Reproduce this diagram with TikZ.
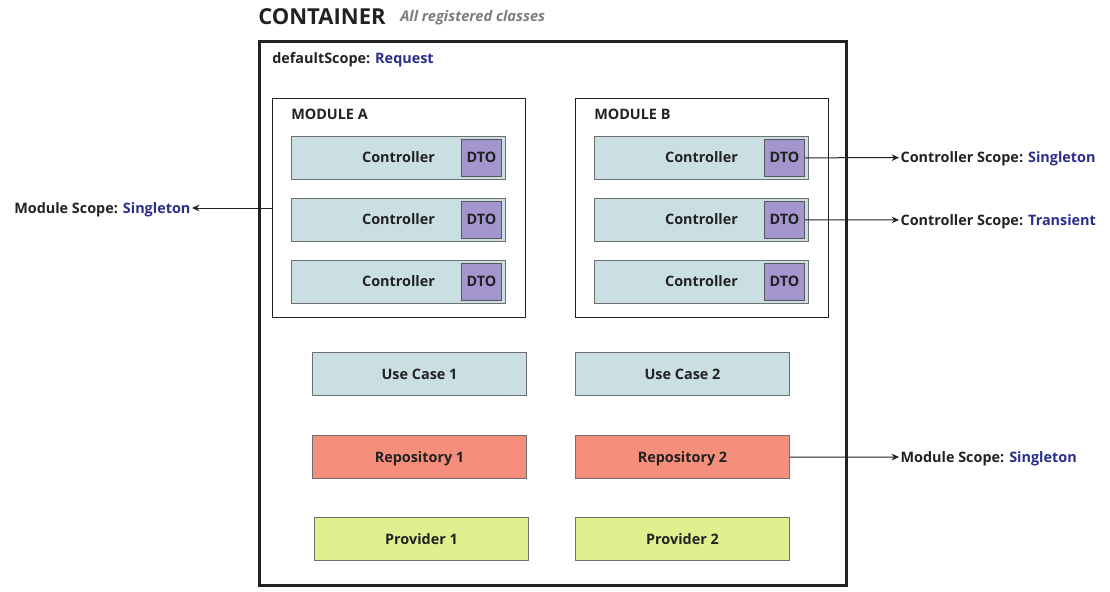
\documentclass[tikz,border=0pt]{standalone}
\usepackage{fontspec}
\setmainfont{Open Sans}
\usepackage{xcolor}
\usetikzlibrary{arrows.meta, positioning}
\definecolor{ink}{RGB}{34,34,34}
\definecolor{scopeblue}{RGB}{43,45,140}
\definecolor{ctrlfill}{RGB}{201,223,225}
\definecolor{dtofill}{RGB}{163,150,207}
\definecolor{repofill}{RGB}{245,143,124}
\definecolor{provfill}{RGB}{224,238,141}
\definecolor{note}{RGB}{125,125,125}

\begin{document}
\begin{tikzpicture}[
  x=0.75pt, y=-0.75pt,
  node distance=13.75pt,
  lbl/.style={font=\bfseries\fontsize{10.8pt}{12pt}\selectfont, text=ink},
  card/.style={lbl, rectangle, draw=ink!65, line width=0.75pt,
               minimum width=160.5pt, minimum height=32.5pt, inner sep=0pt,
               text height=7.6pt, text depth=0pt, anchor=north west},
  ctrl/.style={card, fill=ctrlfill, minimum height=32pt},
  dto/.style={lbl, rectangle, draw=ink!75, fill=dtofill, line width=0.75pt,
              minimum width=30pt, minimum height=27.75pt, inner sep=0pt,
              text height=7.6pt, text depth=0pt},
  group/.style={rectangle, draw=ink, line width=0.75pt, anchor=north west,
                minimum width=190pt, minimum height=164.25pt, inner sep=0pt},
  scope/.style={lbl, inner sep=1pt, text height=7.6pt, text depth=0pt},
  arr/.style={-{Stealth[length=5.5pt, width=5pt]}, color=ink, line width=0.75pt},
]
  \useasboundingbox (0,0) rectangle (1110,592);

  % container
  \node[anchor=base west, inner sep=0pt, font=\bfseries\fontsize{16.5pt}{18pt}\selectfont, text=ink]
    (title) at (258,25) {CONTAINER};
  \node[anchor=base west, inner sep=0pt, font=\bfseries\itshape\fontsize{11pt}{13pt}\selectfont, text=note]
    (sub) at (400,22) {All registered classes};
  \node[rectangle, draw=ink, line width=2.25pt, anchor=north west, inner sep=0pt,
        minimum width=440.25pt, minimum height=408pt] (box) at (258,40) {};
  \node[lbl, anchor=base west, inner sep=0pt] (defscope) at (272,64)
    {defaultScope: \textcolor{scopeblue}{Request}};

  % module A
  \node[group] (modA) at (272,98) {};
  \node[lbl, anchor=base west, inner sep=0pt] at (291,119) {MODULE A};
  \node[ctrl] (ca1) at (291,136) {Controller};
  \node[ctrl, below=of ca1] (ca2) {Controller};
  \node[ctrl, below=of ca2] (ca3) {Controller};
  \node[dto, left=3pt of ca1.east, anchor=east] (da1) {DTO};
  \node[dto, left=3pt of ca2.east, anchor=east] (da2) {DTO};
  \node[dto, left=3pt of ca3.east, anchor=east] (da3) {DTO};

  % module B
  \node[group] (modB) at (575,98) {};
  \node[lbl, anchor=base west, inner sep=0pt] at (594,119) {MODULE B};
  \node[ctrl] (cb1) at (594,136) {Controller};
  \node[ctrl, below=of cb1] (cb2) {Controller};
  \node[ctrl, below=of cb2] (cb3) {Controller};
  \node[dto, left=3pt of cb1.east, anchor=east] (db1) {DTO};
  \node[dto, left=3pt of cb2.east, anchor=east] (db2) {DTO};
  \node[dto, left=3pt of cb3.east, anchor=east] (db3) {DTO};

  % use cases, repositories, providers
  \node[ctrl, minimum height=32.5pt] (uc1) at (312,352) {Use Case 1};
  \node[ctrl, minimum height=32.5pt] (uc2) at (575,352) {Use Case 2};
  \node[card, fill=repofill] (repo1) at (312,435) {Repository 1};
  \node[card, fill=repofill] (repo2) at (575,435) {Repository 2};
  \node[card, fill=provfill] (prov1) at (314,517) {Provider 1};
  \node[card, fill=provfill] (prov2) at (575,517) {Provider 2};

  % scopes
  \node[scope, anchor=east] (msA) at (192,208)
    {Module Scope: \textcolor{scopeblue}{Singleton}};
  \node[scope, anchor=west] (csB1) at (899,157.5)
    {Controller Scope: \textcolor{scopeblue}{Singleton}};
  \node[scope, anchor=west] (csB2) at (899,220)
    {Controller Scope: \textcolor{scopeblue}{Transient}};
  \node[scope, anchor=west] (msB) at (899,457)
    {Module Scope: \textcolor{scopeblue}{Singleton}};

  \draw[arr] (modA.west) -- (msA);
  \draw[arr] (db1) -- (csB1);
  \draw[arr] (db2) -- (csB2);
  \draw[arr] (repo2) -- (msB);
\end{tikzpicture}
\end{document}
